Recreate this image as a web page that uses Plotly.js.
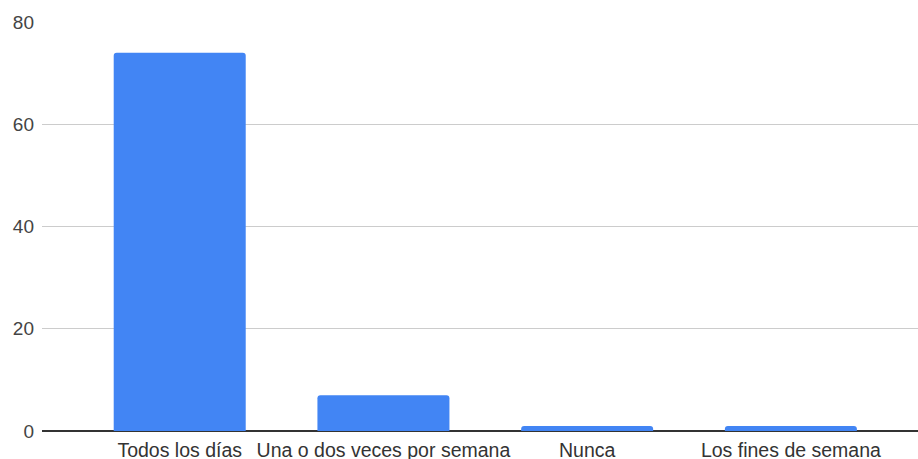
<!DOCTYPE html>
<html>
<head>
<meta charset="utf-8">
<script src="https://cdn.plot.ly/plotly-3.0.1.min.js"></script>
<style>
  html, body { margin: 0; padding: 0; background: #fff; }
  #chart { width: 918px; height: 459px; }
</style>
</head>
<body>
<div id="chart"></div>
<script>
// Frecuencia por categoría
const categories = ["Todos los días", "Una o dos veces por semana", "Nunca", "Los fines de semana"];
const counts = [74, 7, 1, 1];
const yTicks = [0, 20, 40, 60, 80];

const data = [{
    x: categories,
    y: counts,
    type: "bar",
    width: 0.648,
    marker: { color: "#4285F4", cornerradius: 3 },
    hoverinfo: "x+y"
}];

const layout = {
    width: 918,
    height: 459,
    margin: { l: 42, r: 0, t: 22, b: 28 },
    paper_bgcolor: "#fff",
    plot_bgcolor: "#fff",
    showlegend: false,
    font: { family: "Liberation Sans, Arial, sans-serif", size: 19, color: "#444" },
    xaxis: {
        type: "category",
        range: [-0.676, 3.624],
        showgrid: false,
        zeroline: false,
        showline: false,
        ticks: "",
        ticklabelstandoff: 5,
        tickfont: { size: 19.5, color: "#333" },
        fixedrange: true
    },
    yaxis: {
        range: [0, 80],
        tickvals: yTicks,
        ticktext: yTicks.map(String),
        showgrid: true,
        gridcolor: "#cccccc",
        gridwidth: 1,
        zeroline: true,
        zerolinecolor: "#333",
        zerolinewidth: 1.5,
        showline: false,
        ticks: "",
        ticklabelstandoff: 7,
        tickfont: { size: 19, color: "#444" },
        fixedrange: true
    }
};

Plotly.newPlot("chart", data, layout, { displayModeBar: false, staticPlot: true });
</script>
</body>
</html>
